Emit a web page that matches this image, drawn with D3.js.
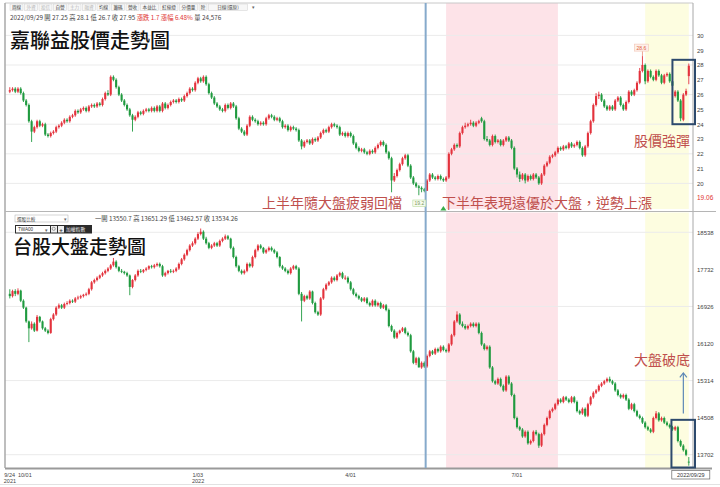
<!DOCTYPE html>
<html><head><meta charset="utf-8">
<script src="https://cdn.jsdelivr.net/npm/d3@7"></script>
<style>body{margin:0;background:#fff}svg{display:block}</style>
</head><body>
<svg id="c" width="720" height="487"></svg>
<script>
// ---------- data ----------
const startDate = "2021-09-24", endDate = "2022-09-29";
const holidays = ["2021-10-11","2021-12-31","2022-01-27","2022-01-28","2022-01-31","2022-02-01","2022-02-02","2022-02-03","2022-02-04","2022-02-28","2022-04-04","2022-04-05","2022-05-02","2022-06-03","2022-09-09"];

const stockOpen = [26.2,26.3,26.4,26.2,26.4,26.1,25.6,25.3,24.2,23.5,
23.8,24.2,23.9,24.0,23.3,23.2,23.4,23.5,23.8,23.9,
24.1,24.3,24.2,24.5,24.6,24.9,24.8,25.0,25.1,24.9,
25.2,25.3,25.2,25.4,25.3,25.7,26.1,26.0,27.2,27.0,
26.5,26.0,25.6,25.3,25.0,24.6,24.3,24.5,24.8,24.7,
24.9,25.0,24.9,25.1,24.9,25.2,24.9,25.4,25.1,25.3,
25.5,25.6,25.5,25.7,25.6,25.9,26.1,26.4,26.3,26.8,
27.1,26.9,27.2,26.7,26.1,25.8,25.4,25.2,25.0,24.9,
25.3,25.1,25.4,25.2,24.4,23.7,23.5,23.3,23.9,24.5,
24.3,24.2,24.0,24.1,24.0,24.4,24.6,24.5,24.3,24.4,
24.2,23.8,23.9,23.6,23.8,23.7,23.6,22.9,22.5,22.8,
22.9,22.7,23.0,22.9,23.1,23.4,23.6,23.5,23.8,24.0,
23.9,23.8,23.3,23.4,23.2,23.4,23.2,22.7,22.4,22.2,
22.3,22.1,22.0,22.2,22.1,22.4,22.6,22.8,22.6,22.1,
21.7,20.2,20.5,20.9,21.3,21.7,21.9,21.2,20.4,20.0,
19.8,19.7,19.6,19.5,20.2,20.6,20.4,20.3,20.5,20.3,
20.2,20.4,22.0,22.3,22.6,22.5,23.4,23.8,23.9,24.0,
24.1,23.9,24.1,24.4,24.2,23.0,22.9,22.6,23.2,22.8,
22.9,22.6,22.9,23.1,22.9,22.4,21.0,20.6,20.3,20.6,
20.2,20.5,20.3,20.6,20.4,20.0,20.6,21.2,21.4,21.8,
21.9,22.1,22.4,22.3,22.5,22.4,22.7,22.5,22.6,22.8,
22.4,21.9,22.5,23.4,24.2,25.3,25.9,26.0,25.6,25.2,
25.0,25.2,25.0,25.6,25.8,25.3,25.0,25.5,26.2,26.0,
26.3,26.8,27.6,28.0,26.9,27.6,27.2,27.0,27.6,27.3,
26.8,27.3,27.4,26.9,25.9,26.2,25.6,24.3,26.0,27.25];
const stockHigh = [26.5,26.5,26.5,26.5,26.5,26.2,25.7,25.4,24.3,23.9,
24.3,24.3,24.1,24.1,23.4,23.5,23.6,23.9,24.0,24.2,
24.4,24.4,24.6,24.7,25.0,25.0,25.1,25.2,25.2,25.3,
25.4,25.4,25.5,25.5,25.8,26.2,26.3,27.3,27.3,27.1,
26.6,26.1,25.7,25.4,25.1,24.7,24.6,24.9,24.9,25.0,
25.1,25.1,25.2,25.2,25.3,25.3,25.5,25.5,25.4,25.6,
25.7,25.7,25.8,25.8,26.0,26.2,26.5,26.5,26.9,27.2,
27.2,27.3,27.3,26.8,26.2,25.9,25.5,25.3,25.1,25.4,
25.4,25.5,25.5,25.3,24.5,23.8,23.6,24.0,24.6,24.6,
24.4,24.3,24.2,24.2,24.5,24.7,24.7,24.6,24.5,24.5,
24.3,24.0,24.0,23.9,23.9,23.8,23.7,23.0,22.9,23.0,
23.0,23.1,23.1,23.2,23.5,23.7,23.7,23.9,24.1,24.1,
24.0,23.9,23.5,23.5,23.5,23.5,23.3,22.8,22.5,22.4,
22.4,22.2,22.3,22.3,22.5,22.7,22.9,22.9,22.7,22.2,
21.8,20.7,21.0,21.4,21.8,22.0,22.0,21.3,20.5,20.1,
19.9,19.8,19.7,20.3,20.7,20.7,20.5,20.6,20.6,20.4,
20.5,22.1,22.4,22.7,22.7,23.5,23.9,24.1,24.1,24.3,
24.2,24.2,24.3,24.5,24.3,23.2,23.0,23.3,23.3,23.0,
23.0,23.0,23.2,23.2,23.0,22.5,21.1,20.8,20.7,20.7,
20.6,20.6,20.7,20.7,20.5,20.7,21.3,21.5,21.9,22.0,
22.2,22.5,22.5,22.6,22.6,22.8,22.8,22.7,22.9,22.9,
22.5,22.6,23.5,24.3,25.4,26.1,26.2,26.1,25.7,25.3,
25.3,25.3,25.7,25.9,25.9,25.4,25.6,26.3,26.3,26.4,
26.9,27.8,28.6,28.1,27.7,27.7,27.3,27.7,27.7,27.4,
27.4,27.5,27.5,27.0,26.3,26.3,25.7,26.1,26.4,28.1];
const stockLow = [26.1,26.2,26.1,26.1,26.0,25.5,25.2,24.1,22.8,23.4,
23.7,23.8,23.8,23.2,23.1,23.1,23.3,23.4,23.7,23.8,
24.0,24.1,24.1,24.4,24.5,24.7,24.7,24.9,24.8,24.8,
25.1,25.1,25.1,25.2,25.2,25.6,25.9,25.9,26.9,26.4,
25.9,25.5,25.2,24.9,24.5,23.5,24.2,24.4,24.6,24.6,
24.8,24.8,24.8,24.8,24.8,24.8,24.8,25.0,25.0,25.2,
25.4,25.4,25.4,25.5,25.5,25.8,26.0,26.2,26.2,26.7,
26.8,26.8,26.6,26.0,25.7,25.3,25.1,24.9,24.8,24.8,
25.0,25.0,25.1,24.3,23.6,23.4,23.2,23.2,23.8,24.2,
24.1,23.9,23.9,23.9,23.9,24.3,24.4,24.2,24.2,24.1,
23.7,23.7,23.5,23.5,23.6,23.5,22.8,22.3,22.4,22.7,
22.6,22.6,22.8,22.8,23.0,23.3,23.4,23.4,23.7,23.8,
23.7,23.2,23.2,23.1,23.1,23.1,22.6,22.3,22.1,22.1,
22.0,21.9,21.9,22.0,22.0,22.3,22.5,22.5,22.0,21.6,
19.4,20.1,20.4,20.8,21.2,21.6,21.1,20.3,19.9,19.7,
19.2,19.4,19.4,19.5,20.1,20.3,20.2,20.2,20.2,20.1,
20.1,20.3,21.9,22.2,22.4,22.4,23.3,23.7,23.8,23.9,
23.8,23.8,24.0,24.1,22.9,22.8,22.5,22.5,22.7,22.7,
22.5,22.5,22.8,22.8,22.3,20.9,20.4,20.1,20.2,20.0,
20.1,20.2,20.2,20.3,19.9,19.9,20.5,21.1,21.3,21.7,
21.8,22.0,22.2,22.2,22.3,22.3,22.4,22.4,22.5,22.3,
21.8,21.8,22.4,23.3,24.1,25.2,25.7,25.5,25.1,24.9,
24.9,24.9,24.9,25.5,25.2,24.9,24.9,25.4,25.9,25.9,
26.2,26.7,27.5,26.7,26.8,27.1,26.9,26.9,27.2,26.7,
26.7,27.2,26.8,26.5,25.8,25.5,24.2,24.2,25.9,26.7];
const stockClose = [26.3,26.4,26.2,26.4,26.1,25.6,25.3,24.2,23.5,23.8,
24.2,23.9,24.0,23.3,23.2,23.4,23.5,23.8,23.9,24.1,
24.3,24.2,24.5,24.6,24.9,24.8,25.0,25.1,24.9,25.2,
25.3,25.2,25.4,25.3,25.7,26.1,26.0,27.2,27.0,26.5,
26.0,25.6,25.3,25.0,24.6,24.3,24.5,24.8,24.7,24.9,
25.0,24.9,25.1,24.9,25.2,24.9,25.4,25.1,25.3,25.5,
25.6,25.5,25.7,25.6,25.9,26.1,26.4,26.3,26.8,27.1,
26.9,27.2,26.7,26.1,25.8,25.4,25.2,25.0,24.9,25.3,
25.1,25.4,25.2,24.4,23.7,23.5,23.3,23.9,24.5,24.3,
24.2,24.0,24.1,24.0,24.4,24.6,24.5,24.3,24.4,24.2,
23.8,23.9,23.6,23.8,23.7,23.6,22.9,22.5,22.8,22.9,
22.7,23.0,22.9,23.1,23.4,23.6,23.5,23.8,24.0,23.9,
23.8,23.3,23.4,23.2,23.4,23.2,22.7,22.4,22.2,22.3,
22.1,22.0,22.2,22.1,22.4,22.6,22.8,22.6,22.1,21.7,
20.2,20.5,20.9,21.3,21.7,21.9,21.2,20.4,20.0,19.8,
19.7,19.6,19.5,20.2,20.6,20.4,20.3,20.5,20.3,20.2,
20.4,22.0,22.3,22.6,22.5,23.4,23.8,23.9,24.0,24.1,
23.9,24.1,24.2,24.2,23.0,22.9,22.6,23.2,22.8,22.9,
22.6,22.9,23.1,22.9,22.4,21.0,20.6,20.3,20.6,20.2,
20.5,20.3,20.6,20.4,20.0,20.6,21.2,21.4,21.8,21.9,
22.1,22.4,22.3,22.5,22.4,22.7,22.5,22.6,22.8,22.4,
21.9,22.5,23.4,24.2,25.3,25.9,26.0,25.6,25.2,25.0,
25.2,25.0,25.6,25.8,25.3,25.0,25.5,26.2,26.0,26.3,
26.8,27.6,28.0,26.9,27.6,27.2,27.0,27.6,27.3,26.8,
27.3,27.4,26.9,26.6,26.2,25.6,24.4,26.0,26.25,27.95];

const indexOpen = [17200,17150,17260,17200,17270,17050,16900,16600,16450,16550,
16400,16700,16600,16450,16400,16350,16650,16750,16900,16950,
16900,16980,17000,17050,17030,17100,17120,17150,17180,17200,
17300,17450,17500,17550,17600,17650,17700,17750,17820,17900,
17780,17700,17680,17650,17600,17350,17500,17600,17700,17680,
17720,17750,17800,17780,17820,17850,17800,17600,17650,17700,
17680,17700,17750,17850,17950,18050,18150,18250,18300,18400,
18500,18550,18400,18300,18200,18250,18300,18250,18350,18400,
18450,18400,18200,18000,17800,17700,17650,17700,17850,17800,
18000,18150,18250,18200,18100,18150,18200,18150,18100,18000,
17800,17750,17700,17650,17750,17800,17750,17200,17050,17150,
17100,17250,17000,16800,16750,17100,17300,17400,17450,17550,
17500,17600,17650,17550,17550,17450,17300,17200,17150,17100,
17050,17100,17000,16950,17050,16950,17000,16900,16950,16850,
16500,16400,16250,16350,16400,16450,16350,16300,15950,15700,
15800,15600,15700,15620,15850,15950,15900,16000,15950,16050,
15980,15950,16100,16300,16600,16750,16550,16500,16450,16500,
16550,16500,16550,16350,16100,16000,16050,15600,15300,15250,
15350,15200,15100,15400,15250,15000,14500,14300,14250,14100,
14200,13950,14000,14200,14150,13900,14150,14350,14500,14650,
14700,14800,14900,14850,14950,14900,14850,14950,14850,14650,
14600,14700,14550,14800,14950,15050,15100,15200,15250,15300,
15350,15300,15250,15100,15000,14950,15000,14900,14700,14800,
14650,14550,14500,14400,14300,14250,14200,14500,14600,14450,
14500,14400,14350,14300,14250,14300,14000,13900,13800,13550.7];
const indexHigh = [17300,17290,17300,17320,17290,17080,16920,16620,16600,16580,
16740,16720,16620,16480,16430,16680,16780,16930,16990,16980,
17010,17040,17080,17080,17130,17160,17180,17200,17230,17330,
17480,17530,17580,17620,17680,17730,17780,17850,17980,17930,
17800,17740,17700,17680,17620,17520,17630,17730,17740,17740,
17780,17820,17830,17850,17880,17880,17830,17680,17720,17740,
17730,17780,17880,17980,18080,18180,18280,18340,18430,18540,
18620,18580,18440,18330,18280,18330,18330,18380,18430,18490,
18480,18420,18230,18030,17830,17730,17730,17880,17880,18030,
18180,18280,18280,18220,18180,18230,18230,18180,18130,18020,
17830,17780,17730,17780,17830,17830,17780,17240,17180,17180,
17280,17270,17030,16830,17130,17330,17430,17480,17580,17580,
17630,17680,17680,17600,17580,17480,17330,17230,17180,17130,
17130,17130,17030,17080,17080,17030,17030,16980,16980,16880,
16530,16430,16380,16420,16480,16480,16380,16330,15980,15830,
15830,15730,15730,15880,15980,15980,16030,16030,16080,16080,
16010,16130,16330,16630,16820,16780,16600,16540,16530,16580,
16580,16580,16580,16380,16130,16080,16080,15630,15330,15380,
15380,15230,15430,15430,15280,15030,14530,14330,14280,14230,
14230,14030,14230,14240,14180,14180,14380,14530,14680,14730,
14830,14930,14930,14980,14980,14930,14980,14980,14880,14680,
14730,14730,14830,14980,15080,15130,15230,15280,15330,15380,
15400,15330,15280,15130,15030,15030,15030,14930,14830,14830,
14680,14580,14530,14430,14330,14280,14530,14650,14630,14530,
14530,14430,14380,14330,14330,14330,14030,13930,13830,13651.29];
const indexLow = [17100,17120,17150,17170,17020,16870,16570,16150,16420,16370,
16380,16570,16420,16370,16320,16330,16620,16720,16870,16870,
16870,16950,16970,17000,17000,17070,17090,17120,17150,17170,
17270,17420,17470,17520,17570,17620,17670,17720,17790,17750,
17670,17650,17620,17570,17170,17320,17470,17570,17650,17650,
17690,17720,17750,17750,17790,17770,17570,17570,17620,17650,
17650,17670,17720,17820,17920,18020,18120,18220,18270,18370,
18470,18370,18270,18170,18170,18220,18220,18220,18320,18370,
18370,18170,17970,17770,17670,17620,17620,17670,17770,17770,
17970,18120,18170,18070,18070,18120,18120,18070,17970,17770,
17720,17670,17620,17620,17720,17720,17170,16600,17020,17070,
17070,16970,16770,16720,16720,17070,17270,17370,17420,17470,
17470,17570,17520,17500,17420,17270,17170,17120,17070,17020,
17020,16970,16920,16920,16920,16920,16870,16870,16820,16470,
16370,16220,16220,16320,16370,16320,16270,15920,15670,15650,
15600,15570,15590,15590,15820,15870,15870,15920,15920,15950,
15920,15920,16070,16270,16570,16520,16470,16420,16420,16470,
16470,16470,16320,16070,15970,15970,15570,15270,15220,15220,
15170,15070,15070,15220,14970,14470,14270,14220,14070,14070,
13920,13920,13970,14120,13850,13870,14120,14320,14470,14620,
14670,14770,14820,14820,14870,14820,14820,14820,14620,14570,
14570,14520,14520,14770,14920,15020,15070,15170,15220,15270,
15270,15220,15070,14970,14920,14920,14870,14670,14670,14620,
14520,14470,14370,14270,14220,14170,14170,14470,14420,14420,
14370,14320,14270,14220,14220,13970,13870,13770,13670,13462.57];
const indexClose = [17150,17260,17200,17270,17050,16900,16600,16450,16550,16400,
16700,16600,16450,16400,16350,16650,16750,16900,16950,16900,
16980,17000,17050,17030,17100,17120,17150,17180,17200,17300,
17450,17500,17550,17600,17650,17700,17750,17820,17900,17780,
17700,17680,17650,17600,17350,17500,17600,17700,17680,17720,
17750,17800,17780,17820,17850,17800,17600,17650,17700,17680,
17700,17750,17850,17950,18050,18150,18250,18300,18400,18500,
18550,18400,18300,18200,18250,18300,18250,18350,18400,18450,
18400,18200,18000,17800,17700,17650,17700,17850,17800,18000,
18150,18250,18200,18100,18150,18200,18150,18100,18000,17800,
17750,17700,17650,17750,17800,17750,17200,17050,17150,17100,
17250,17000,16800,16750,17100,17300,17400,17450,17550,17500,
17600,17650,17550,17550,17450,17300,17200,17150,17100,17050,
17100,17000,16950,17050,16950,17000,16900,16950,16850,16500,
16400,16250,16350,16400,16450,16350,16300,15950,15700,15800,
15600,15700,15620,15850,15950,15900,16000,15950,16050,15980,
15950,16100,16300,16600,16750,16550,16500,16450,16500,16550,
16500,16550,16350,16100,16000,16050,15600,15300,15250,15350,
15200,15100,15400,15250,15000,14500,14300,14250,14100,14200,
13950,14000,14200,14150,13900,14150,14350,14500,14650,14700,
14800,14900,14850,14950,14900,14850,14950,14850,14650,14600,
14700,14550,14800,14950,15050,15100,15200,15250,15300,15350,
15300,15250,15100,15000,14950,15000,14900,14700,14800,14650,
14550,14500,14400,14300,14250,14200,14500,14600,14450,14500,
14400,14350,14300,14250,14300,14000,13900,13800,13700,13534.26];

const stockTicks = [30,29,28,27,26,25,24,23,22,21,20];
const stockGrid = [30,28,26,24,22,20];
const indexTicks = [18538,17732,16926,16120,15314,14508,13702];
const indexGrid = [18538,16926,15314,13702];
const xTickDates = ["2021-09-24","2021-10-01","2022-01-03","2022-04-01","2022-07-01"];
const xTickText = ["9/24","10/01","1/03","4/01","7/01"];
const xYearDates = ["2021-09-24","2022-01-03"];
const xYearText = ["2021","2022"];
const toolbarLabels = ["周線","外資","投信","自營","主力","融資","均線","籌碼","營收","本益比","紅綠燈","分價量","除","日線(還原)"];

// ---------- build ----------
const fmt = d3.utcFormat("%Y-%m-%d");
const dates = d3.utcDays(new Date(startDate), d3.utcDay.offset(new Date(endDate), 1))
  .filter(d => d.getUTCDay() % 6 !== 0).map(fmt).filter(s => !holidays.includes(s));

const svg = d3.select("#c");
const FONT = "'Liberation Sans','Noto Sans CJK TC',sans-serif";
const CJK = "'Noto Sans CJK TC','Noto Sans CJK SC',sans-serif";
const RED = "#e3323c", GREEN = "#1f9a3f", NOTE = "#c0504d";

const L = 5, R = 693;
const x = d3.scalePoint().domain(dates).range([9.8, 688.8]);
const yTop = d3.scaleLinear().domain([20, 30]).range([183.4, 35.4]);
const yBot = d3.scaleLinear().domain([13702, 18538]).range([454.7, 232.3]);
const TOP = [3, 209], BOT = [212.5, 468];
const xi = i => x(dates[i]);

// bands
function bands(y0, y1) {
  svg.append("rect").attr("x", xi(160)).attr("y", y0).attr("width", xi(201) - xi(160)).attr("height", y1 - y0).attr("fill", "#fde3e8");
  svg.append("rect").attr("x", xi(233)).attr("y", y0).attr("width", xi(249) - xi(233)).attr("height", y1 - y0).attr("fill", "#fdfde0");
}
bands(TOP[0], TOP[1]);
bands(BOT[0], BOT[1]);

// grid
svg.append("g").selectAll("line").data(stockGrid).join("line")
  .attr("x1", L).attr("x2", R).attr("y1", d => yTop(d)).attr("y2", d => yTop(d)).attr("stroke", "#ebebeb");
svg.append("g").selectAll("line").data(indexGrid).join("line")
  .attr("x1", L).attr("x2", R).attr("y1", d => yBot(d)).attr("y2", d => yBot(d)).attr("stroke", "#ebebeb");

// frames
svg.append("line").attr("x1", L).attr("x2", R).attr("y1", 3).attr("y2", 3).attr("stroke", "#c8c8c8");
svg.append("line").attr("x1", L).attr("x2", L).attr("y1", 3).attr("y2", 468).attr("stroke", "#a8a8a8").attr("stroke-width", 1.5);
svg.append("line").attr("x1", R).attr("x2", R).attr("y1", 3).attr("y2", 468).attr("stroke", "#a8a8a8");
svg.append("line").attr("x1", L).attr("x2", 716).attr("y1", 211.5).attr("y2", 211.5).attr("stroke", "#b5b5b5");
svg.append("line").attr("x1", L).attr("x2", 712).attr("y1", 468.5).attr("y2", 468.5).attr("stroke", "#9a9a9a").attr("stroke-width", 1.8);
svg.append("line").attr("x1", 0).attr("x2", 720).attr("y1", 484.5).attr("y2", 484.5).attr("stroke", "#e2e2e2");

// candles
function candles(O, H, Lo, C, y) {
  const idx = d3.range(dates.length);
  const g = svg.append("g");
  const col = i => C[i] >= O[i] ? RED : GREEN;
  g.selectAll("line").data(idx).join("line")
    .attr("x1", i => xi(i)).attr("x2", i => xi(i))
    .attr("y1", i => y(H[i])).attr("y2", i => y(Lo[i]))
    .attr("stroke", col).attr("stroke-width", 0.9);
  g.selectAll("rect").data(idx).join("rect")
    .attr("x", i => xi(i) - 1.05).attr("width", 2.1)
    .attr("y", i => Math.min(y(O[i]), y(C[i])))
    .attr("height", i => Math.max(0.9, Math.abs(y(O[i]) - y(C[i]))))
    .attr("fill", col);
}
candles(stockOpen, stockHigh, stockLow, stockClose, yTop);
candles(indexOpen, indexHigh, indexLow, indexClose, yBot);

// blue divider
const xDiv = (xi(152) + xi(153)) / 2;
svg.append("line").attr("x1", xDiv).attr("x2", xDiv).attr("y1", 3).attr("y2", 468).attr("stroke", "#86aacb").attr("stroke-width", 2);

// right axes
function rightAxis(scale, ticks, fmtf) {
  const g = svg.append("g").attr("transform", `translate(${R + 3},0)`)
    .call(d3.axisRight(scale).tickValues(ticks).tickSize(0).tickPadding(1).tickFormat(fmtf));
  g.select(".domain").remove();
  g.selectAll("text").attr("font-family", FONT).attr("font-size", 6).attr("fill", "#444");
}
rightAxis(yTop, stockTicks, d3.format("d"));
rightAxis(yBot, indexTicks, d3.format("d"));
svg.append("text").attr("x", R + 4).attr("y", yTop(19.06) + 2.5).text("19.06")
  .attr("font-family", FONT).attr("font-size", 6.5).attr("fill", "#e0332f");

// bottom axis
const xa = svg.append("g").attr("transform", "translate(0,469)")
  .call(d3.axisBottom(x).tickValues(xTickDates).tickSize(0).tickPadding(4)
    .tickFormat(d => xTickText[xTickDates.indexOf(d)]));
xa.select(".domain").remove();
xa.selectAll("text").attr("text-anchor", "start").attr("dx", -6)
  .attr("font-family", FONT).attr("font-size", 5.5).attr("fill", "#444");
svg.append("g").selectAll("text").data(xYearDates).join("text")
  .attr("x", d => x(d) - 6).attr("y", 483).text((d, i) => xYearText[i])
  .attr("font-family", FONT).attr("font-size", 5.5).attr("fill", "#444");
// last date box
const lastX = xi(249);
svg.append("rect").attr("x", lastX - 17).attr("y", 470.5).attr("width", 38).attr("height", 8.5)
  .attr("fill", "#fff").attr("stroke", "#666").attr("stroke-width", 0.7);
svg.append("text").attr("x", lastX + 2).attr("y", 477).attr("text-anchor", "middle").text(dates[249].replace(/-/g, "/"))
  .attr("font-family", FONT).attr("font-size", 5.5).attr("fill", "#333");

// highlight boxes
svg.append("rect").attr("x", xi(243)).attr("y", yTop(28.35)).attr("width", R + 2 - xi(243)).attr("height", yTop(24.0) - yTop(28.35))
  .attr("fill", "none").attr("stroke", "#2d4a6d").attr("stroke-width", 2);
svg.append("rect").attr("x", xi(243) - 1).attr("y", yBot(14460)).attr("width", R + 3 - xi(243)).attr("height", 467.5 - yBot(14460))
  .attr("fill", "none").attr("stroke", "#2d4a6d").attr("stroke-width", 2);

// arrow
const ax = xi(247);
svg.append("line").attr("x1", ax).attr("x2", ax).attr("y1", yBot(14600)).attr("y2", yBot(15480))
  .attr("stroke", "#5d88b6").attr("stroke-width", 1.2);
svg.append("path").attr("d", `M${ax - 3.5},${yBot(15480) + 4.5}L${ax},${yBot(15480)}L${ax + 3.5},${yBot(15480) + 4.5}`)
  .attr("fill", "none").attr("stroke", "#5d88b6").attr("stroke-width", 1.2);

// high / low markers
const hx = xi(232), hy = yTop(28.6);
svg.append("line").attr("x1", hx).attr("x2", hx).attr("y1", hy - 5).attr("y2", hy).attr("stroke", "#e36b4a").attr("stroke-width", 0.6);
svg.append("rect").attr("x", hx - 8).attr("y", hy - 12).attr("width", 14).attr("height", 7)
  .attr("fill", "#fdf0ea").attr("stroke", "#f2c4b4").attr("stroke-width", 0.6);
svg.append("text").attr("x", hx - 1).attr("y", hy - 6.5).attr("text-anchor", "middle").text("28.6")
  .attr("font-family", FONT).attr("font-size", 5).attr("fill", "#e2603a");
const lx = xi(150);
svg.append("rect").attr("x", lx - 6).attr("y", 200).attr("width", 13).attr("height", 6.5)
  .attr("fill", "#f7fbf0").attr("stroke", "#b9dc9c").attr("stroke-width", 0.6);
svg.append("text").attr("x", lx + 0.5).attr("y", 205.2).attr("text-anchor", "middle").text("19.2")
  .attr("font-family", FONT).attr("font-size", 5).attr("fill", "#7a9a5a");
const tx = xi(159);
svg.append("path").attr("d", `M${tx - 3},210.5L${tx},206L${tx + 3},210.5Z`).attr("fill", "#38ad4a");

// titles & notes
svg.append("text").attr("x", 10).attr("y", 48).text("嘉聯益股價走勢圖")
  .attr("font-family", CJK).attr("font-size", 20).attr("font-weight", 500).attr("fill", "#111");
svg.append("text").attr("x", 13).attr("y", 254).text("台股大盤走勢圖")
  .attr("font-family", CJK).attr("font-size", 19).attr("font-weight", 500).attr("fill", "#111");
const notes = [
  {t: "上半年隨大盤疲弱回檔", x: 262, y: 208},
  {t: "下半年表現遠優於大盤，逆勢上漲", x: 442, y: 208},
  {t: "股價強彈", x: 634, y: 146},
  {t: "大盤破底", x: 634, y: 365}
];
svg.append("g").selectAll("text").data(notes).join("text")
  .attr("x", d => d.x).attr("y", d => d.y).text(d => d.t)
  .attr("font-family", CJK).attr("font-size", 14).attr("fill", NOTE);

// toolbar
const faded = ["外資","投信","主力","融資"];
let bx = 10;
const tb = svg.append("g");
toolbarLabels.forEach(lbl => {
  const w = lbl.length * 5 + 3 + (lbl.length > 3 ? 6 : 0);
  tb.append("rect").attr("x", bx).attr("y", 4).attr("width", w).attr("height", 6.5)
    .attr("fill", "#f7f7f7").attr("stroke", "#cfcfcf").attr("stroke-width", 0.5);
  tb.append("text").attr("x", bx + w / 2).attr("y", 9).attr("text-anchor", "middle").text(lbl)
    .attr("font-family", CJK).attr("font-size", 4.6).attr("fill", faded.includes(lbl) ? "#b8b8b8" : "#444");
  bx += w + 1.5;
});
tb.append("text").attr("x", bx + 3).attr("y", 9).text("▾").attr("font-family", FONT).attr("font-size", 5).attr("fill", "#666");

// info line
const info = svg.append("text").attr("x", 10).attr("y", 20).attr("font-family", CJK).attr("font-size", 6.3).attr("fill", "#444");
info.append("tspan").text("2022/09/29 開 27.25  高 28.1  低 26.7  收 27.95  ");
info.append("tspan").attr("fill", "#e0332f").text("漲跌 1.7  漲幅 6.48%  ");
info.append("tspan").text("量 24,576");

// lower panel controls
svg.append("rect").attr("x", 15).attr("y", 215).attr("width", 53).attr("height", 7)
  .attr("fill", "#fff").attr("stroke", "#aaa").attr("stroke-width", 0.5);
svg.append("text").attr("x", 17).attr("y", 220.5).text("選股比較").attr("font-family", CJK).attr("font-size", 4.6).attr("fill", "#444");
svg.append("text").attr("x", 64).attr("y", 221).text("▾").attr("font-family", FONT).attr("font-size", 5).attr("fill", "#666");
svg.append("rect").attr("x", 15).attr("y", 225).attr("width", 77).attr("height", 8.5).attr("fill", "#2b2b2b");
svg.append("rect").attr("x", 16).attr("y", 226).attr("width", 34).attr("height", 6.5).attr("fill", "#fff");
svg.append("text").attr("x", 18).attr("y", 231).text("TWA00").attr("font-family", FONT).attr("font-size", 4.6).attr("fill", "#333");
svg.append("text").attr("x", 45).attr("y", 231.5).text("▾").attr("font-family", FONT).attr("font-size", 5).attr("fill", "#666");
svg.append("rect").attr("x", 51).attr("y", 226).attr("width", 6).attr("height", 6.5).attr("fill", "#eee");
svg.append("circle").attr("cx", 53.7).attr("cy", 228.8).attr("r", 1.6).attr("fill", "none").attr("stroke", "#666").attr("stroke-width", 0.6);
svg.append("rect").attr("x", 58).attr("y", 226).attr("width", 6).attr("height", 6.5).attr("fill", "#eee");
svg.append("text").attr("x", 61).attr("y", 231.6).attr("text-anchor", "middle").text("+").attr("font-family", FONT).attr("font-size", 6).attr("font-weight", 700).attr("fill", "#333");
svg.append("text").attr("x", 66).attr("y", 231.3).text("加權指數").attr("font-family", CJK).attr("font-size", 4.8).attr("fill", "#eee");
svg.append("text").attr("x", 95).attr("y", 221).text("一開 13550.7  高 13651.29  低 13462.57  收 13534.26")
  .attr("font-family", CJK).attr("font-size", 6.3).attr("fill", "#444");
</script>
</body></html>
